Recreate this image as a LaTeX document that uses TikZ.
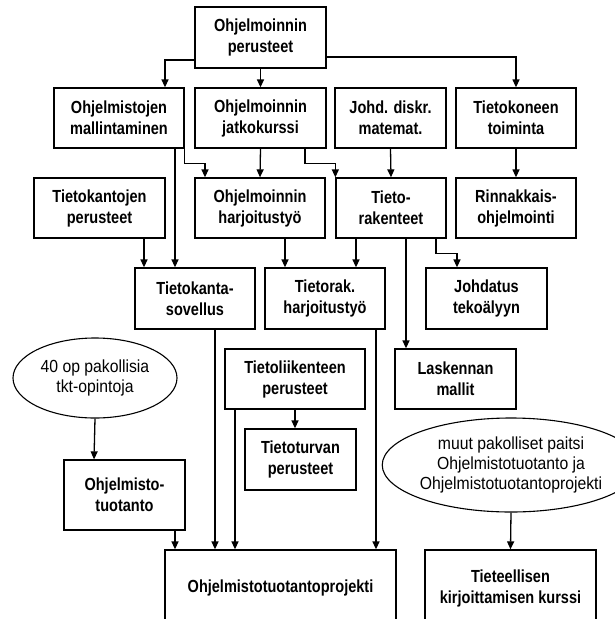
\documentclass[tikz,border=0pt]{standalone}
\usepackage{fontspec}
\setmainfont{Liberation Sans}[FakeStretch=0.83]
\newfontfamily\ovalfont{Liberation Sans}[FakeStretch=0.9]
\usetikzlibrary{arrows.meta,shapes.geometric}

\tikzset{
    kurssi/.style={draw, line width=1.3pt, inner sep=0pt, align=center,
        font=\bfseries\fontsize{17.5}{21}\selectfont},
    soikio/.style={ellipse, draw, line width=1.1pt, inner sep=0pt, align=center,
        font=\ovalfont\fontsize{17.5}{20}\selectfont},
    nuoli/.style={line width=1.3pt, -{Triangle[length=8pt,width=7pt]}},
}

\begin{document}
\begin{tikzpicture}[x=1pt, y=-1pt]
    \useasboundingbox (0,0) rectangle (615,619);
    \clip (0,0) rectangle (615,619);

    % Courses, row by row
    \node[kurssi, minimum width=131, minimum height=61] (perus) at (260.5,37.5) {Ohjelmoinnin\\perusteet};

    \node[kurssi, minimum width=130, minimum height=60] (mall) at (119,118) {Ohjelmistojen\\mallintaminen};
    \node[kurssi, minimum width=131, minimum height=60] (jatko) at (260.5,118) {Ohjelmoinnin\\jatkokurssi};
    \node[kurssi, minimum width=111, minimum height=60] (diskr) at (390.5,118) {Johd. diskr.\\matemat.};
    \node[kurssi, minimum width=120, minimum height=60] (toim) at (516,118) {Tietokoneen\\toiminta};

    \node[kurssi, minimum width=131, minimum height=60] (tkperus) at (99.5,208) {Tietokantojen\\perusteet};
    \node[kurssi, minimum width=130, minimum height=60] (ohjharj) at (260,208) {Ohjelmoinnin\\harjoitustyö};
    \node[kurssi, minimum width=110, minimum height=60] (tira) at (391,208) {Tieto-\\rakenteet};
    \node[kurssi, minimum width=120, minimum height=60] (rinn) at (516,208) {Rinnakkais-\\ohjelmointi};

    \node[kurssi, minimum width=120, minimum height=61] (tksov) at (195,298.5) {Tietokanta-\\sovellus};
    \node[kurssi, minimum width=120, minimum height=61] (tiraharj) at (325,298.5) {Tietorak.\\harjoitustyö};
    \node[kurssi, minimum width=121, minimum height=61] (tekoaly) at (486.5,298.5) {Johdatus\\tekoälyyn};

    \node[soikio, minimum width=164, minimum height=80] (op40) at (95,378) {40 op pakollisia\\tkt-opintoja};
    \node[kurssi, minimum width=140, minimum height=60] (tlperus) at (295,379) {Tietoliikenteen\\perusteet};
    \node[kurssi, minimum width=121, minimum height=60] (laskm) at (455.5,379) {Laskennan\\mallit};

    \node[kurssi, minimum width=111, minimum height=61] (ttperus) at (300.5,459.5) {Tietoturvan\\perusteet};
    \node[kurssi, minimum width=121, minimum height=70] (ohtu) at (124.5,495) {Ohjelmisto-\\tuotanto};
    \node[soikio, minimum width=230, minimum height=94] (muut) at (511,465) {muut pakolliset paitsi\\Ohjelmistotuotanto ja\\Ohjelmistotuotantoprojekti};

    \node[kurssi, minimum width=231, minimum height=76] (ohtupro) at (280.5,588) {Ohjelmistotuotantoprojekti};
    \node[kurssi, minimum width=171, minimum height=76] (tiet) at (510.5,588) {Tieteellisen\\kirjoittamisen kurssi};

    % Prerequisites
    \draw[nuoli] ([yshift=-22.5pt]perus.west) -| ([xshift=46pt]mall.north);
    \draw[nuoli] (perus.south) -- (jatko.north);
    \draw[nuoli] ([yshift=-19.5pt]perus.east) -| (toim.north);

    \draw[nuoli] ([xshift=56pt]mall.south) -- ([xshift=-20pt]tksov.north);
    \draw[nuoli] (mall.south east) -- ++(0,-15pt) -| ([xshift=-55pt]ohjharj.north);
    \draw[nuoli] (jatko.south) -- (ohjharj.north);
    \draw[nuoli] ([xshift=44.5pt]jatko.south) -- ++(0,-15pt) -| (tira.north west);
    \draw[nuoli] (diskr.south) -- (tira.north);
    \draw[nuoli] (toim.south) -- (rinn.north);

    \draw[nuoli] ([xshift=44.5pt]tkperus.south) -- ([xshift=-51pt]tksov.north);
    \draw[nuoli] ([xshift=25pt]ohjharj.south) -- ([xshift=-40pt]tiraharj.north);
    \draw[nuoli] ([xshift=-35pt]tira.south) -- ([xshift=31pt]tiraharj.north);
    \draw[nuoli] ([xshift=15pt]tira.south) -- ([xshift=-49.5pt]laskm.north);
    \draw[nuoli] ([xshift=45pt]tira.south) -- ++(0,-15pt) -| ([xshift=-29.5pt]tekoaly.north);

    \draw[nuoli] (op40.south) -- ([xshift=-30.5pt]ohtu.north);
    \draw[nuoli] (tlperus.south) -- (tlperus.south |- ttperus.north);

    \draw[nuoli] ([xshift=50.5pt]ohtu.south) -- ([xshift=-105.5pt]ohtupro.north);
    \draw[nuoli] ([xshift=20pt]tksov.south) -- ([xshift=-65.5pt]ohtupro.north);
    \draw[nuoli] ([xshift=-60pt]tlperus.south) -- ([xshift=-45.5pt]ohtupro.north);
    \draw[nuoli] ([xshift=51pt]tiraharj.south) -- ([xshift=95.5pt]ohtupro.north);
    \draw[nuoli] (muut.south) -- (tiet.north);
\end{tikzpicture}
\end{document}
